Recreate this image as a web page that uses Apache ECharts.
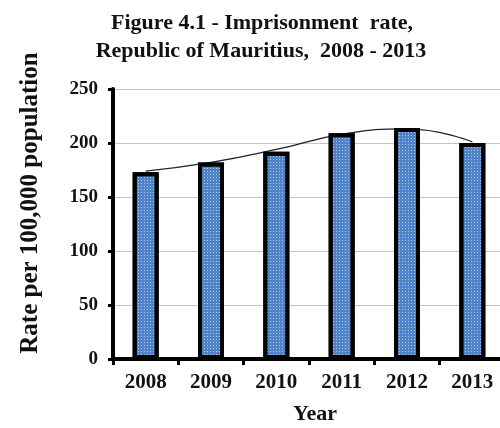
<!DOCTYPE html>
<html>
<head>
<meta charset="utf-8">
<script src="https://cdn.jsdelivr.net/npm/echarts@6/dist/echarts.min.js"></script>
<style>
html,body{margin:0;padding:0;background:#fff;}
#chart{width:500px;height:428px;}
</style>
</head>
<body>
<div id="chart"></div>
<script>
const years = ['2008', '2009', '2010', '2011', '2012', '2013'];
const rates = [173, 182, 192, 209, 214, 200];
const trend = [174, 182, 194, 208, 213, 201];
const yTicks = [0, 50, 100, 150, 200, 250];
const titleLines = ['Figure 4.1 - Imprisonment  rate,', 'Republic of Mauritius,  2008 - 2013'];
const yTitle = 'Rate per 100,000 population';
const xTitle = 'Year';

const FONT = '"Liberation Serif", "Times New Roman", serif';
const chart = echarts.init(document.getElementById('chart'), null, {renderer: 'canvas'});
chart.setOption({
  animation: false,
  backgroundColor: '#ffffff',
  graphic: [
    {type: 'text', x: 262, y: 23, style: {text: titleLines[0], font: 'bold 22px ' + FONT, fill: '#111', align: 'center', verticalAlign: 'middle'}},
    {type: 'text', x: 261, y: 51, style: {text: titleLines[1], font: 'bold 22px ' + FONT, fill: '#111', align: 'center', verticalAlign: 'middle'}},
    {type: 'text', x: 31, y: 203, rotation: Math.PI / 2, style: {text: yTitle, font: 'bold 25px ' + FONT, fill: '#111', align: 'center', verticalAlign: 'middle'}}
  ],
  grid: {left: 113, right: -5, top: 89, bottom: 69, containLabel: false, outerBoundsMode: 'none'},
  xAxis: {
    type: 'category',
    data: years,
    name: xTitle,
    nameLocation: 'middle',
    nameGap: 44,
    nameTextStyle: {fontFamily: FONT, fontWeight: 'bold', fontSize: 22, color: '#111', padding: [0, 0, 0, 12]},
    axisLine: {lineStyle: {color: '#000', width: 4}},
    axisTick: {show: true, length: 6, lineStyle: {color: '#000', width: 3}},
    axisLabel: {margin: 13, fontFamily: FONT, fontWeight: 'bold', fontSize: 21, color: '#111'}
  },
  yAxis: {
    type: 'value',
    min: yTicks[0],
    max: yTicks[yTicks.length - 1],
    interval: yTicks[1] - yTicks[0],
    axisLine: {show: true, lineStyle: {color: '#000', width: 4}},
    axisTick: {show: true, length: 5, lineStyle: {color: '#000', width: 3}},
    axisLabel: {margin: 15, fontFamily: FONT, fontWeight: 'bold', fontSize: 19, color: '#111'},
    splitLine: {show: true, lineStyle: {color: '#c4c4c4', width: 1}}
  },
  series: [
    {
      type: 'line',
      data: trend,
      smooth: true,
      symbol: 'none',
      z: 1,
      lineStyle: {color: '#222', width: 1.3}
    },
    {
      type: 'bar',
      data: rates,
      barWidth: 26,
      z: 2,
      itemStyle: {
        color: '#4f84c8',
        borderColor: '#000',
        borderWidth: 4,
        decal: {
          symbol: 'rect',
          symbolSize: 1,
          color: 'rgba(255,255,255,0.55)',
          dashArrayX: [1, 2],
          dashArrayY: [1, 2],
          rotation: 0
        }
      }
    }
  ]
});
</script>
</body>
</html>
